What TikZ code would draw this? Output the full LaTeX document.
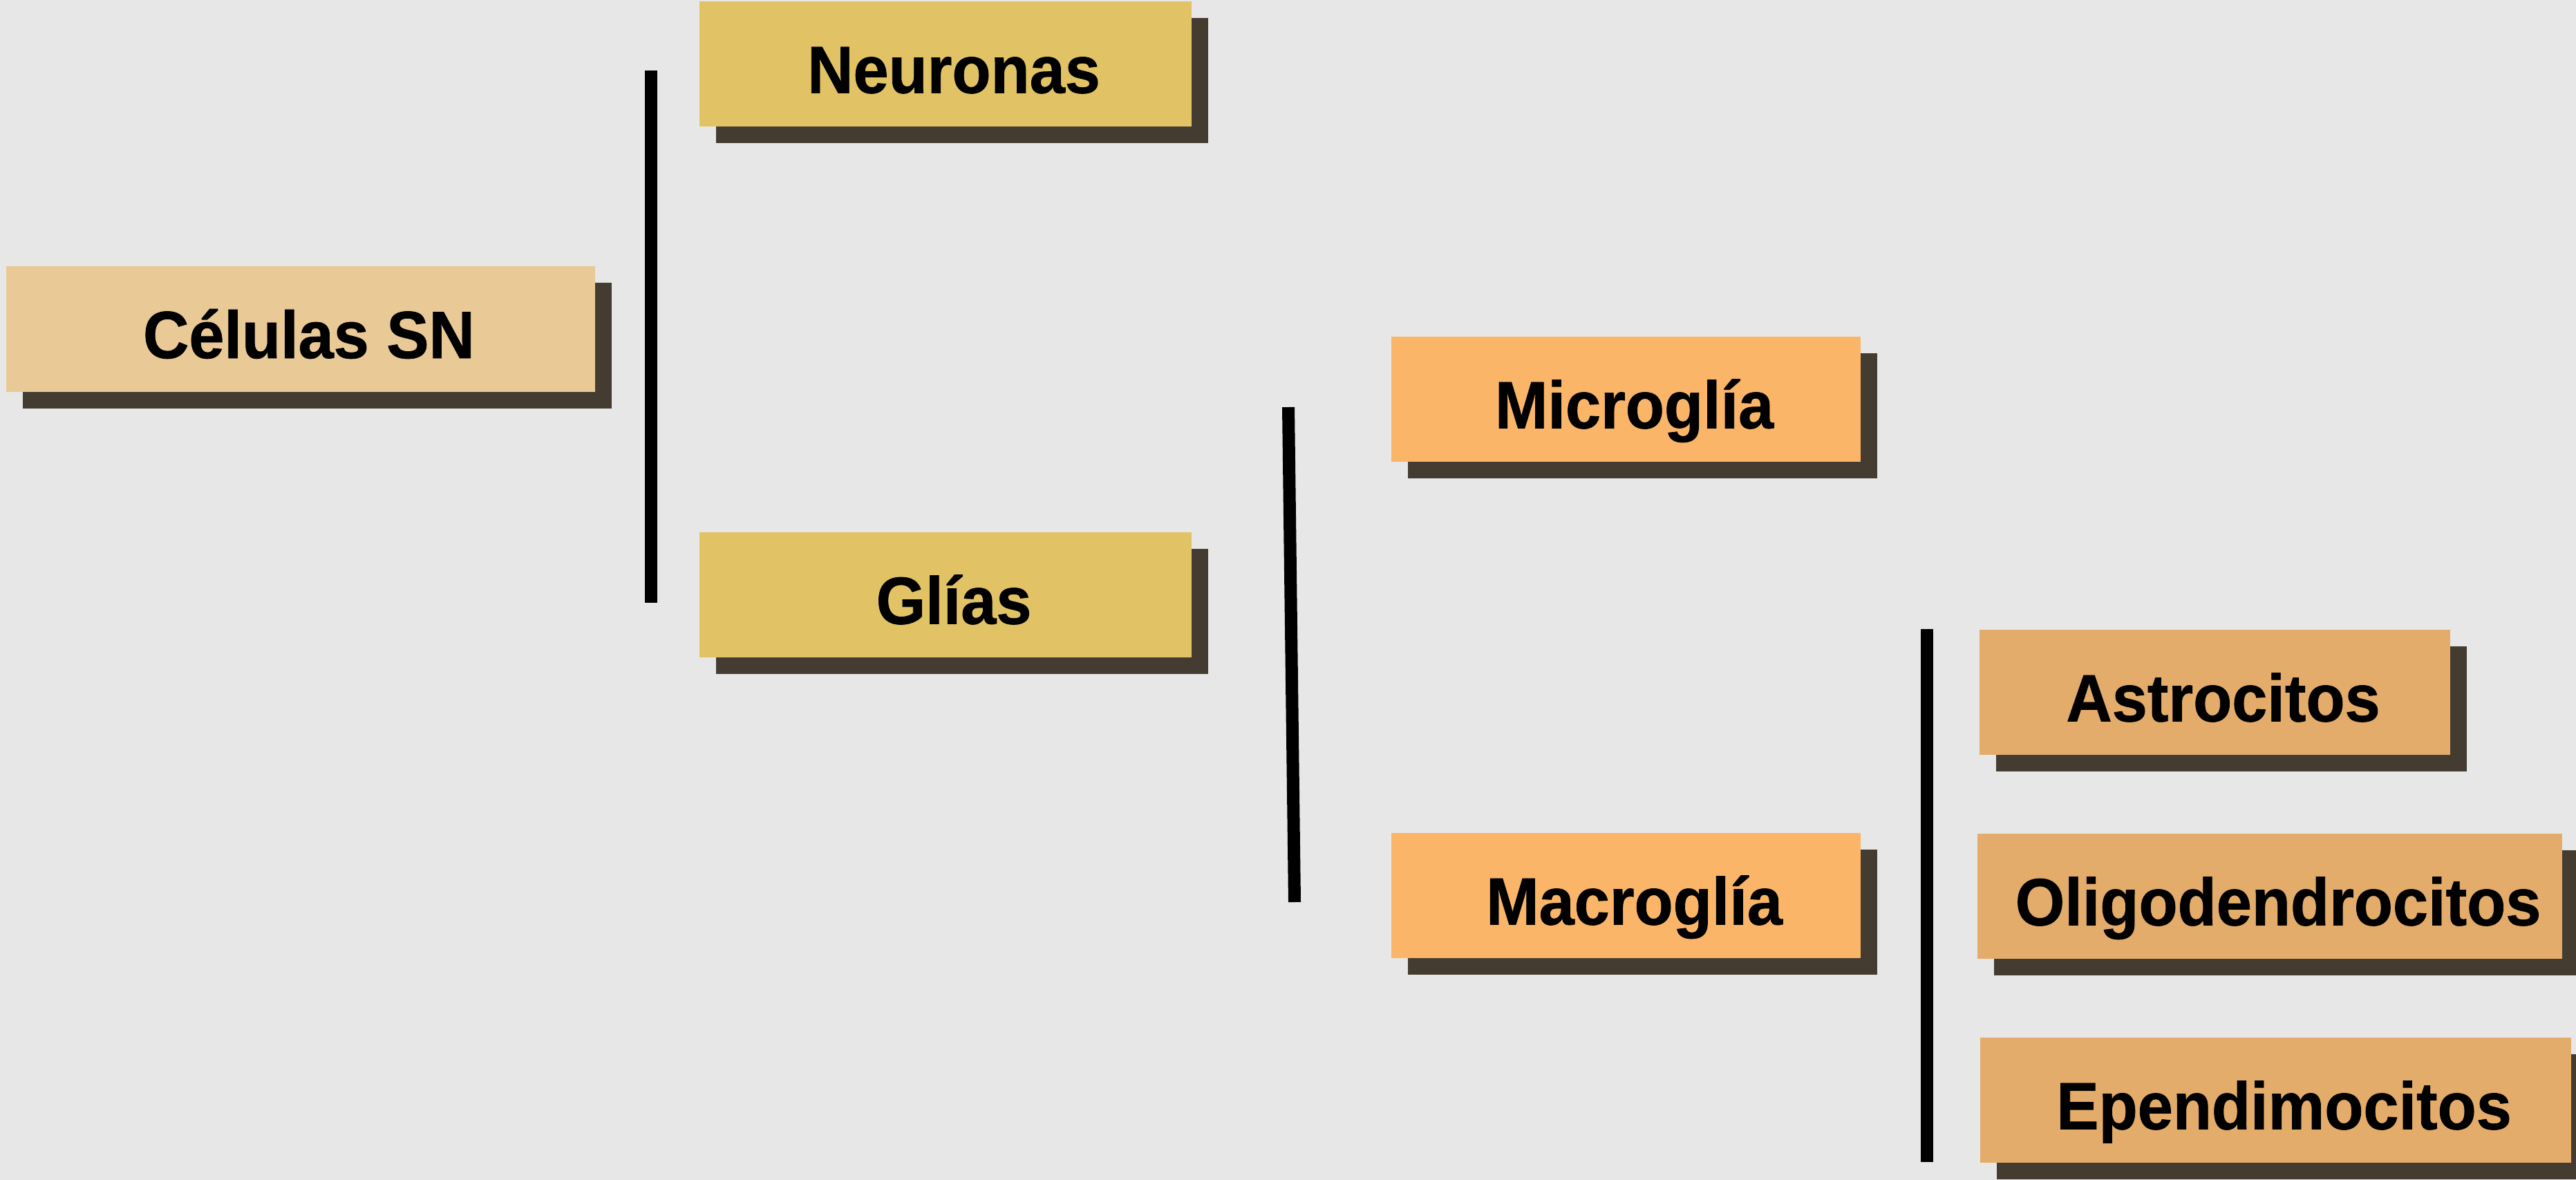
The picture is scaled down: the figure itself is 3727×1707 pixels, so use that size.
\documentclass[tikz,border=0pt]{standalone}
\usepackage{fontspec}
\newfontfamily\lblfont{Liberation Sans}[FakeStretch=0.95,FakeBold=0.8]
\usetikzlibrary{shadows}
\definecolor{bgc}{HTML}{E7E7E7}
\definecolor{shadowc}{HTML}{453C31}
\definecolor{rootc}{HTML}{E9C995}
\definecolor{lvlone}{HTML}{E1C366}
\definecolor{lvltwo}{HTML}{FBB569}
\definecolor{lvlthree}{HTML}{E4AC6B}
\tikzset{
  cellbox/.style={rectangle, inner sep=0pt, minimum height=1.81cm, text=black,
    text height=1.0cm, text depth=0.16cm,
    execute at begin node=\hspace*{0.24cm},
    font=\lblfont\bfseries\fontsize{27.5}{33}\selectfont,
    drop shadow={shadow xshift=0.24cm, shadow yshift=-0.24cm, opacity=1, fill=shadowc}},
  bar/.style={line width=0.18cm, black}
}
\begin{document}
\begin{tikzpicture}[x=0.01cm,y=-0.01cm]
\fill[bgc] (0,0) rectangle (3727,1707);
\useasboundingbox (0,0) rectangle (3727,1707);
\node[cellbox, fill=rootc, minimum width=8.51cm] (celulas) at (435,476) {Células SN};
\node[cellbox, fill=lvlone, minimum width=7.12cm] (neuronas) at (1368,92.5) {Neuronas};
\node[cellbox, fill=lvlone, minimum width=7.12cm] (glias) at (1368,860.5) {Glías};
\node[cellbox, fill=lvltwo, minimum width=6.79cm] (micro) at (2352.5,577.5) {Microglía};
\node[cellbox, fill=lvltwo, minimum width=6.79cm] (macro) at (2352.5,1295.5) {Macroglía};
\node[cellbox, fill=lvlthree, minimum width=6.81cm] (astro) at (3204.5,1001.5) {Astrocitos};
\node[cellbox, fill=lvlthree, minimum width=8.46cm] (oligo) at (3284,1296.5) {Oligodendrocitos};
\node[cellbox, fill=lvlthree, minimum width=8.55cm] (epend) at (3292.5,1591.5) {Ependimocitos};
\coordinate (baratop) at (942,102);
\coordinate (barabot) at (942,872);
\coordinate (barbtop) at (1864,589);
\coordinate (barbbot) at (1873,1305);
\coordinate (barctop) at (2788,910);
\coordinate (barcbot) at (2788,1681);
\draw[bar] (baratop) -- (barabot);
\draw[bar] (barbtop) -- (barbbot);
\draw[bar] (barctop) -- (barcbot);
\end{tikzpicture}
\end{document}
